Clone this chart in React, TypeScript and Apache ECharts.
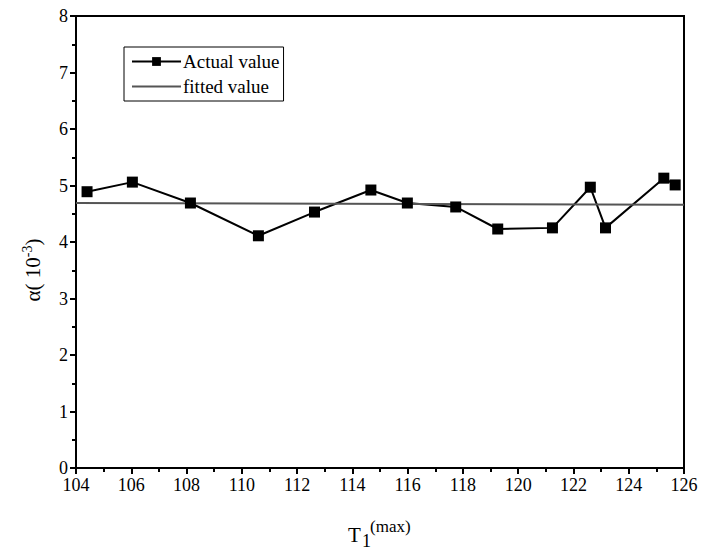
import React, { useEffect, useRef } from "react";
import * as echarts from "echarts";

const xValues = [104.4, 106.04, 108.14, 110.6, 112.63, 114.67, 115.99, 117.74, 119.26, 121.24, 122.61, 123.16, 125.27, 125.68];
const actualValues = [4.89, 5.06, 4.69, 4.11, 4.53, 4.92, 4.69, 4.62, 4.23, 4.25, 4.97, 4.25, 5.13, 5.01];
const fittedX = [104, 126];
const fittedValues = [4.69, 4.66];
const seriesNames = ["Actual value", "fitted value"];

const FONT = "Liberation Serif";
const LABEL_FONT = "'Liberation Serif', 'Times New Roman', Times, serif";

export default function App() {
  const ref = useRef<HTMLDivElement>(null);
  useEffect(() => {
    if (!ref.current) return;
    const chart = echarts.init(ref.current, null, { renderer: "svg" });
    const labelStyle = {
      fontFamily: LABEL_FONT,
      fontSize: 18,
      color: "#000",
      margin: 8,
    };
    chart.setOption({
      animation: false,
      backgroundColor: "#fff",
      textStyle: { fontFamily: LABEL_FONT, color: "#000" },
      grid: { left: 76, right: 17, top: 16, bottom: 84, show: true, borderColor: "#000", borderWidth: 2, backgroundColor: "transparent" },
      legend: {
        orient: "vertical",
        left: 124,
        top: 47,
        itemGap: 6,
        itemWidth: 49,
        itemHeight: 11,
        padding: [5, 4, 5, 7],
        borderColor: "#000",
        borderWidth: 1,
        textStyle: { fontFamily: FONT, fontSize: 19, color: "#000", padding: [0, 0, 0, -3] },
        data: [
          { name: seriesNames[0] },
          { name: seriesNames[1], itemStyle: { opacity: 0 } },
        ],
      },
      xAxis: {
        type: "value",
        min: 104,
        max: 126,
        interval: 2,
        axisLine: { show: true, lineStyle: { color: "#000", width: 2 } },
        axisTick: { show: true, inside: false, length: 6, lineStyle: { color: "#000", width: 2 } },
        minorTick: { show: true, splitNumber: 2, length: 4, lineStyle: { color: "#000", width: 2 } },
        splitLine: { show: false },
        axisLabel: labelStyle,
      },
      yAxis: {
        type: "value",
        min: 0,
        max: 8,
        interval: 1,
        axisLine: { show: true, lineStyle: { color: "#000", width: 2 } },
        axisTick: { show: true, inside: false, length: 6, lineStyle: { color: "#000", width: 2 } },
        minorTick: { show: true, splitNumber: 2, length: 4, lineStyle: { color: "#000", width: 2 } },
        splitLine: { show: false },
        axisLabel: labelStyle,
      },
      graphic: [
        {
          type: "text",
          x: 33,
          y: 270,
          rotation: Math.PI / 2,
          style: {
            text: "{a|α( 10}{s|-3}{a|)}",
            align: "center",
            verticalAlign: "middle",
            fill: "#000",
            rich: {
              a: { fontFamily: FONT, fontSize: 21, lineHeight: 26, verticalAlign: "middle", fill: "#000" },
              s: { fontFamily: FONT, fontSize: 14, lineHeight: 26, verticalAlign: "top", fill: "#000" },
            },
          },
        },
        {
          type: "text",
          x: 348,
          y: 535,
          style: { text: "T", fontFamily: FONT, fontSize: 21, fill: "#000", align: "left", verticalAlign: "middle" },
        },
        {
          type: "text",
          x: 362,
          y: 541,
          style: { text: "1", fontFamily: FONT, fontSize: 18, fill: "#000", align: "left", verticalAlign: "middle" },
        },
        {
          type: "text",
          x: 370,
          y: 526,
          style: { text: "(max)", fontFamily: FONT, fontSize: 17, fill: "#000", align: "left", verticalAlign: "middle" },
        },
      ],
      series: [
        {
          name: seriesNames[0],
          type: "line",
          data: xValues.map((x, i) => [x, actualValues[i]]),
          symbol: "rect",
          symbolSize: 11,
          itemStyle: { color: "#000" },
          lineStyle: { color: "#000", width: 2 },
        },
        {
          name: seriesNames[1],
          type: "line",
          data: fittedX.map((x, i) => [x, fittedValues[i]]),
          symbol: "none",
          itemStyle: { color: "#555" },
          lineStyle: { color: "#555", width: 2 },
        },
      ],
    });
    return () => chart.dispose();
  }, []);
  return <div ref={ref} style={{ position: "fixed", left: 0, top: 0, width: 701, height: 552 }} />;
}
